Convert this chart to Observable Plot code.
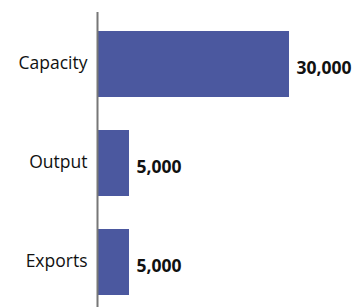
<!DOCTYPE html>
<html>
<head>
<meta charset="utf-8">
<script src="https://cdn.jsdelivr.net/npm/d3@7"></script>
<script src="https://cdn.jsdelivr.net/npm/@observablehq/plot@0.6"></script>
<style>
  html, body { margin: 0; padding: 0; background: #fff; }
</style>
</head>
<body>
<div id="chart"></div>
<script>
const categories = ["Capacity", "Output", "Exports"];
const values = [30000, 5000, 5000];
const labels = ["30,000", "5,000", "5,000"];

const data = categories.map((c, i) => ({category: c, value: values[i], label: labels[i]}));

const chart = Plot.plot({
  width: 355,
  height: 307,
  marginTop: 12,
  marginBottom: 0,
  marginLeft: 97,
  marginRight: 2,
  style: {fontFamily: "'Open Sans', sans-serif", background: "#fff"},
  x: {domain: [0, 40000], axis: null},
  y: {domain: categories, range: [14, 311.5], paddingInner: 0.33, paddingOuter: 0.16, axis: null},
  marks: [
    Plot.barX(data, {x: "value", y: "category", fill: "#4b589f"}),
    Plot.axisY({tickSize: 0, tickPadding: 10, fontSize: 17.5, label: null, fill: "#111", anchor: "left", dy: -1.5}),
    Plot.text(data, {x: "value", y: "category", text: "label", textAnchor: "start", dx: 7, dy: 4, fontSize: 17.5, fontWeight: "bold", fill: "#111"}),
    Plot.ruleX([0], {stroke: "#777", strokeWidth: 2})
  ]
});
document.getElementById("chart").appendChild(chart);
</script>
</body>
</html>
